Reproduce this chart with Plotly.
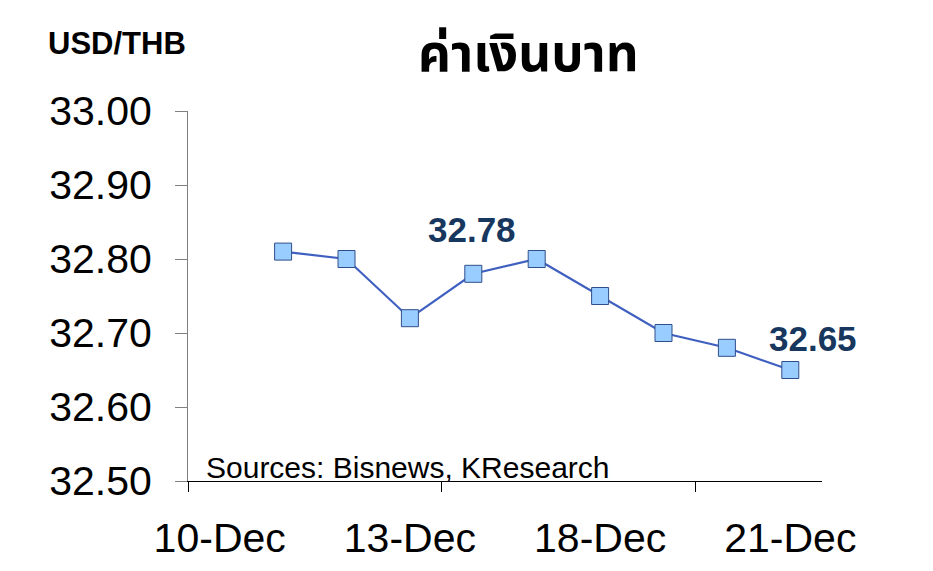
import plotly.graph_objects as go

categories = ["10-Dec", "11-Dec", "12-Dec", "13-Dec", "14-Dec",
              "17-Dec", "18-Dec", "19-Dec", "20-Dec", "21-Dec"]
rates = [None, 32.81, 32.80, 32.72, 32.78, 32.80, 32.75, 32.70, 32.68, 32.65]
label_tick_cats = ["10-Dec", "13-Dec", "18-Dec", "21-Dec"]
boundary_ticks = [-0.5, 3.5, 7.5]
y_ticks = [32.50, 32.60, 32.70, 32.80, 32.90, 33.00]
highlight_cats = ["14-Dec", "21-Dec"]

FONT = "Liberation Sans, Arial, sans-serif"
THAI = "Noto Sans Thai, Loma, Tlwg Typo, Garuda, Noto Sans, DejaVu Sans, sans-serif"

fig = go.Figure()
fig.add_trace(go.Scatter(
    x=categories, y=rates, mode="lines+markers",
    line=dict(color="#3F60C0", width=2.2),
    marker=dict(symbol="square", size=17, color="#99CCFF",
                line=dict(color="#2F4F8A", width=1)),
    connectgaps=False, hoverinfo="skip", showlegend=False,
))
# invisible trace to register the boundary-tick axis
fig.add_trace(go.Scatter(x=[-0.5, 9.5], y=[None, None], xaxis="x2",
                         mode="markers", showlegend=False, hoverinfo="skip"))

for cat, (dx, dy) in zip(highlight_cats, [(-1, 44), (23, 32)]):
    v = rates[categories.index(cat)]
    fig.add_annotation(x=cat, y=v, text=f"{v:.2f}", showarrow=False,
                       xshift=dx, yshift=dy,
                       font=dict(family=FONT, size=35, color="#17375E", weight="bold"))

PW, PH = 634, 370
fig.add_annotation(xref="paper", yref="paper", x=(204 - 188) / PW, y=(481 - 467) / PH,
                   text="Sources: Bisnews, KResearch", showarrow=False,
                   xanchor="left", yanchor="middle",
                   font=dict(family=FONT, size=30, color="#000000"))
fig.add_annotation(xref="paper", yref="paper", x=(46 - 188) / PW, y=(481 - 43) / PH,
                   text="<b>USD/THB</b>", showarrow=False,
                   xanchor="left", yanchor="middle",
                   font=dict(family=FONT, size=31, color="#000000"))
fig.add_annotation(xref="paper", yref="paper", x=(528 - 188) / PW, y=(481 - 55) / PH,
                   text="<b>ค่าเงินบาท</b>", showarrow=False,
                   xanchor="center", yanchor="middle",
                   font=dict(family=THAI, size=51, color="#000000"))

fig.update_layout(
    width=933, height=571,
    margin=dict(l=180, r=119, t=103, b=98, autoexpand=False),
    plot_bgcolor="white", paper_bgcolor="white",
    xaxis=dict(type="category", categoryorder="array", categoryarray=categories,
               range=[-0.5, 9.5], tickmode="array", tickvals=label_tick_cats,
               ticktext=label_tick_cats, ticks="", showgrid=False,
               showline=True, linecolor="#000000", linewidth=1,
               tickfont=dict(family=FONT, size=41, color="#000000"),
               ticklabelstandoff=21),
    xaxis2=dict(overlaying="x", type="linear", range=[-0.5, 9.5],
                tickmode="array", tickvals=boundary_ticks, ticks="outside",
                ticklen=10, tickcolor="#000000", tickwidth=1,
                showticklabels=False, showgrid=False, showline=False,
                zeroline=False, side="bottom"),
    yaxis=dict(range=[32.5, 33.0], tickmode="array", tickvals=y_ticks,
               tickformat=".2f", ticks="outside", ticklen=12,
               tickcolor="#808080", showline=True, linecolor="#808080",
               linewidth=1, showgrid=False, zeroline=False,
               tickfont=dict(family=FONT, size=41, color="#000000"),
               ticklabelstandoff=15),
)

fig.write_html("out.html")
